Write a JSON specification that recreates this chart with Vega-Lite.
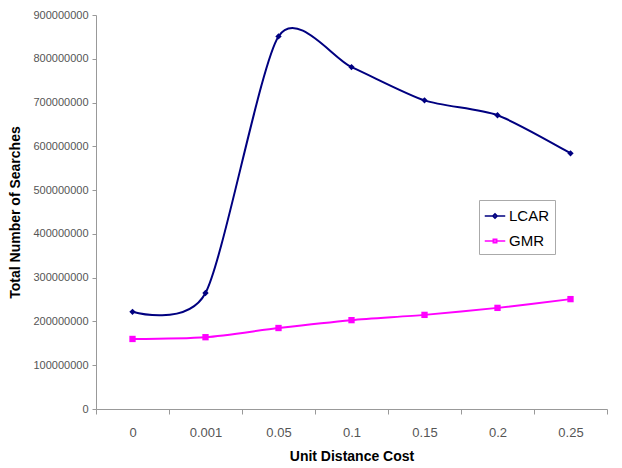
{
  "$schema": "https://vega.github.io/schema/vega-lite/v6.json",
  "width": 511,
  "height": 394,
  "autosize": "none",
  "padding": {"left": 96, "top": 15, "right": 15, "bottom": 59},
  "background": "white",
  "config": {
    "view": {"stroke": null},
    "font": "Liberation Sans",
    "axis": {"domainColor": "#999999", "tickColor": "#999999", "grid": false, "labelColor": "#555555", "titleColor": "#000000", "titleFont": "Liberation Sans", "labelFont": "Liberation Sans"}
  },
  "data": {
    "values": [
      {"cost": "0", "series": "LCAR", "searches": 222000000},
      {"cost": "0.001", "series": "LCAR", "searches": 265000000},
      {"cost": "0.05", "series": "LCAR", "searches": 851000000},
      {"cost": "0.1", "series": "LCAR", "searches": 781000000},
      {"cost": "0.15", "series": "LCAR", "searches": 705000000},
      {"cost": "0.2", "series": "LCAR", "searches": 671000000},
      {"cost": "0.25", "series": "LCAR", "searches": 584000000},
      {"cost": "0", "series": "GMR", "searches": 160000000},
      {"cost": "0.001", "series": "GMR", "searches": 164000000},
      {"cost": "0.05", "series": "GMR", "searches": 185000000},
      {"cost": "0.1", "series": "GMR", "searches": 203000000},
      {"cost": "0.15", "series": "GMR", "searches": 215000000},
      {"cost": "0.2", "series": "GMR", "searches": 231000000},
      {"cost": "0.25", "series": "GMR", "searches": 251000000}
    ]
  },
  "encoding": {
    "x": {
      "field": "cost", "type": "ordinal", "sort": null,
      "scale": {"type": "band", "paddingInner": 0, "paddingOuter": 0},
      "axis": {"title": "Unit Distance Cost", "labelAngle": 0, "tickBand": "extent", "tickSize": 5, "labelPadding": 12, "labelFontSize": 13, "titleFontSize": 14, "titleFontWeight": "bold", "titlePadding": 10}
    },
    "y": {
      "field": "searches", "type": "quantitative",
      "scale": {"domain": [0, 900000000], "nice": false},
      "axis": {"title": "Total Number of Searches", "values": [0,100000000,200000000,300000000,400000000,500000000,600000000,700000000,800000000,900000000], "format": "d", "tickSize": 4, "labelFontSize": 11, "labelPadding": 4, "titleFontSize": 14, "titleFontWeight": "bold", "titlePadding": 10}
    },
    "color": {
      "field": "series", "type": "nominal", "sort": ["LCAR", "GMR"],
      "scale": {"domain": ["LCAR", "GMR"], "range": ["#000080", "#FF00FF"]},
      "legend": {"title": null, "orient": "none", "legendX": 383, "legendY": 185, "labelFontSize": 15, "labelColor": "#000000", "symbolSize": 420, "symbolOpacity": 1, "strokeColor": "#aaaaaa", "fillColor": "white", "padding": 5, "rowPadding": 6, "labelOffset": 3, "symbolStrokeWidth": 1.5}
    }
  },
  "layer": [
    {"mark": {"type": "line", "interpolate": "cardinal", "tension": 0.25, "strokeWidth": 2}},
    {"transform": [{"filter": "datum.series === 'LCAR'"}], "mark": {"type": "point", "shape": "diamond", "filled": true, "size": 40, "opacity": 1}},
    {"transform": [{"filter": "datum.series === 'GMR'"}], "mark": {"type": "point", "shape": "square", "filled": true, "size": 40, "opacity": 1}},
    {
      "mark": {"type": "point", "filled": true, "opacity": 0, "strokeWidth": 1.5},
      "encoding": {
        "stroke": {"field": "series", "type": "nominal", "sort": ["LCAR", "GMR"], "scale": {"domain": ["LCAR", "GMR"], "range": ["#000080", "#FF00FF"]}},
        "shape": {"field": "series", "type": "nominal", "sort": ["LCAR", "GMR"], "scale": {"domain": ["LCAR", "GMR"], "range": ["M-1,0H1M0,-0.22L0.22,0L0,0.22L-0.22,0Z", "M-1,0H1M-0.17,-0.17H0.17V0.17H-0.17Z"]}}
      }
    }
  ]
}
